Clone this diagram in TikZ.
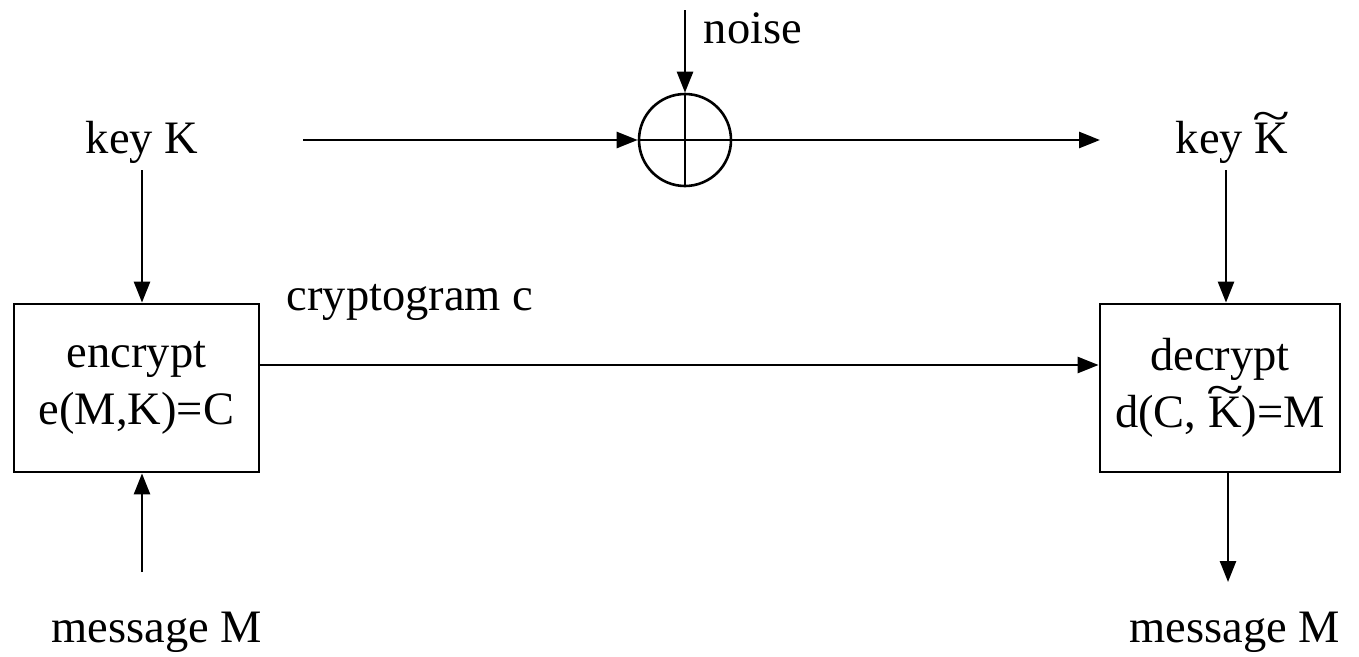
\documentclass[tikz,border=0pt]{standalone}
\usepackage{fontspec}
\usepackage{graphicx}
\setmainfont{Liberation Serif}
\usetikzlibrary{arrows.meta}
\newcommand\tilK{\ooalign{K\cr\hidewidth\raisebox{0.47em}{\scalebox{1.5}[1.0]{\textasciitilde}}\hidewidth\cr}}
\begin{document}
\begin{tikzpicture}[x=1pt,y=-1pt,
  every node/.style={font=\fontsize{46.5}{57}\selectfont},
  lbl/.style={inner sep=2pt},
  boxnode/.style={draw,line width=2.8pt,minimum width=245pt,minimum height=168pt,align=center,inner sep=0pt},
  conn/.style={line width=2.6pt,-{Triangle[length=21pt,width=16pt]}},
  plain/.style={line width=2.6pt}]
\useasboundingbox (0,0) rectangle (1359,656);
% boxes
\node[boxnode] (enc) at (136.5,388) {encrypt\\e(M,K)=C};
\node[boxnode,minimum width=240pt] (dec) at (1220,388) {decrypt\\d(C, \tilK)=M};
% labels
\node[lbl] (keyK) at (142,142) {key K};
\node[lbl] (keyK2) at (1232,142) {key \tilK};
\node[lbl] (msgL) at (157,632) {message M};
\node[lbl] (msgR) at (1235,632) {message M};
\node[lbl] (crypt) at (410,302) {cryptogram c};
\node[lbl] (noise) at (753,28) {noise};
% adder
\node[draw,circle,line width=2.6pt,minimum size=92pt,inner sep=0pt] (sum) at (685,140) {};
\draw[plain] (sum.north) -- (sum.south);
\draw[plain] (sum.west) -- (sum.east);
% coordinates
\coordinate (kstart) at (303,140);
\coordinate (kend) at (1100,140);
\coordinate (nstart) at (685,10);
\coordinate (k1top) at (142,170);
\coordinate (m1) at (142,572);
\coordinate (k2top) at (1226,170);
\coordinate (m2) at (1228,582);
\coordinate (cy) at (0,365);
% connectors
\draw[conn] (kstart) -- (sum.west);
\draw[conn] (nstart) -- (sum.north);
\draw[conn] (sum.east) -- (kend);
\draw[conn] (k1top) -- (k1top |- enc.north);
\draw[conn] (m1) -- (m1 |- enc.south);
\draw[conn] (k2top) -- (k2top |- dec.north);
\draw[conn] (enc.east |- cy) -- (dec.west |- cy);
\draw[conn] (m2 |- dec.south) -- (m2);
\end{tikzpicture}
\end{document}
